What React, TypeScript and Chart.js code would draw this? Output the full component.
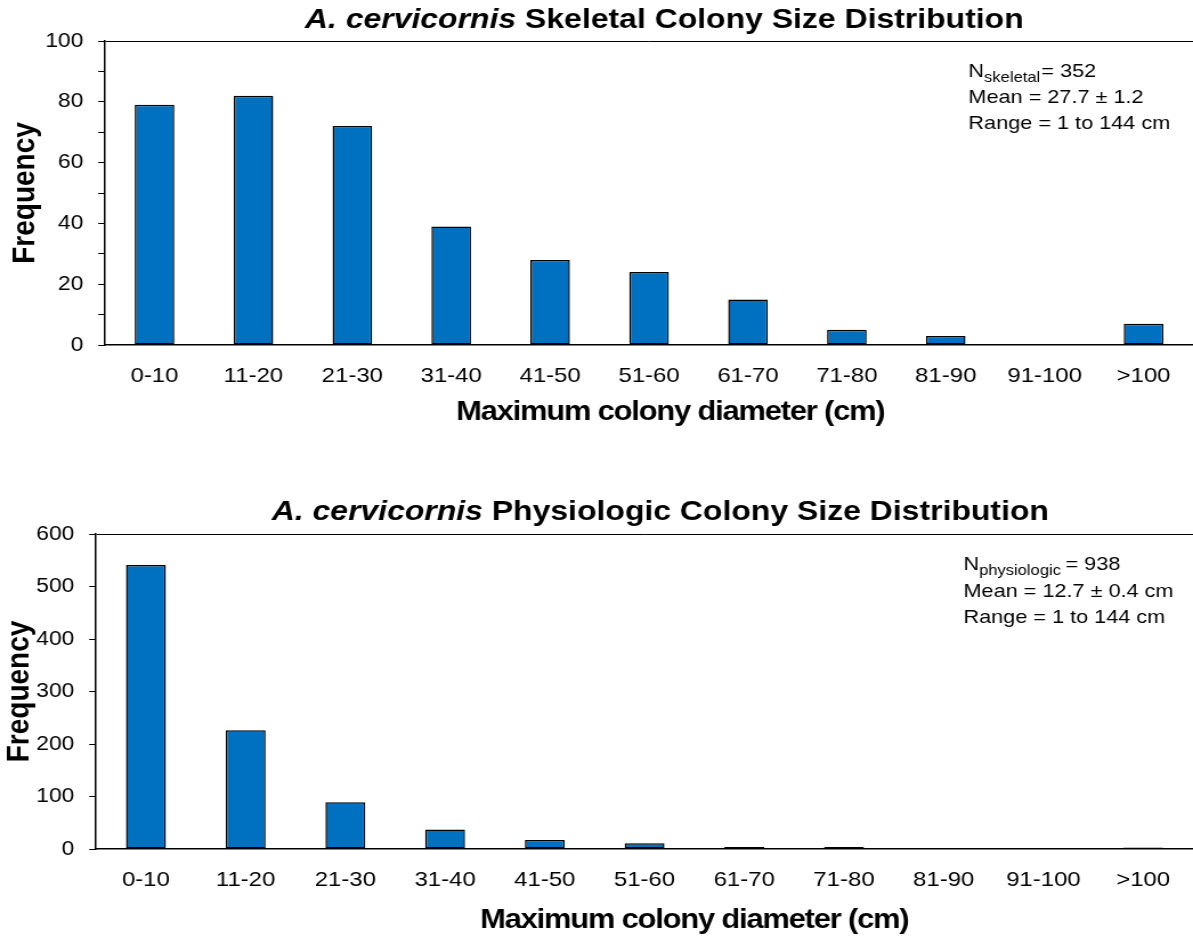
import React, { useEffect, useRef } from 'react';
import { Chart, registerables } from 'chart.js';

Chart.register(...registerables);

// Size classes (maximum colony diameter, cm)
const sizeClasses = ['0-10', '11-20', '21-30', '31-40', '41-50', '51-60', '61-70', '71-80', '81-90', '91-100', '>100'];

// Colony counts per size class
const skeletalCounts = [79, 82, 72, 39, 28, 24, 15, 5, 3, 0, 7];
const physiologicCounts = [541, 226, 89, 37, 17, 11, 4, 4, 0, 0, 3];

// Labelled y-axis ticks (minor ticks in between are left unlabelled)
const skeletalYLabels = [0, 20, 40, 60, 80, 100];
const physiologicYLabels = [0, 100, 200, 300, 400, 500, 600];

// Summary statistics
const skeletalStats = ['Mean = 27.7 \u00b1 1.2', 'Range = 1 to 144 cm'];
const physiologicStats = ['Mean = 12.7 \u00b1 0.4 cm', 'Range = 1 to 144 cm'];

const FONT = "'Liberation Sans', Arial, Helvetica, sans-serif";
const PAGE_W = 1193;
const PAGE_H = 939;
// The figure is drawn slightly narrower and widened on screen
const X_STRETCH = 1.14;
const CANVAS_W = Math.round(PAGE_W / X_STRETCH);

type PanelSpec = {
  kind: string;
  subscript: string;
  nText: string;
  subGap: number;
  stats: string[];
  counts: number[];
  yLabels: number[];
  yMax: number;
  yStep: number;
  // layout (page pixels)
  top: number;
  height: number;
  plotTop: number;
  plotBottom: number;
  plotLeft: number;
  yTitlePad: number;
  xTickPad: number;
  titleCx: number;
  titleCy: number;
  xTitleCx: number;
  xTitleCy: number;
  statsX: number;
  statsBaselines: number[];
};

function overlayPlugin(p: PanelSpec) {
  return {
    id: 'panelText',
    afterDraw(chart: any) {
      const ctx: CanvasRenderingContext2D = chart.ctx;
      const sx = (v: number) => v / X_STRETCH;
      const oy = (v: number) => v - p.top;
      ctx.save();
      ctx.fillStyle = '#000';

      // Chart title: italic species name followed by bold text
      const fItalic = `italic bold 28px ${FONT}`;
      const fBold = `bold 28px ${FONT}`;
      const species = 'A. cervicornis';
      const rest = ` ${p.kind} Colony Size Distribution`;
      ctx.font = fItalic;
      const w1 = ctx.measureText(species).width;
      ctx.font = fBold;
      const w2 = ctx.measureText(rest).width;
      const x = sx(p.titleCx) - (w1 + w2) / 2;
      ctx.textAlign = 'left';
      ctx.textBaseline = 'middle';
      ctx.font = fItalic;
      ctx.fillText(species, x, oy(p.titleCy));
      ctx.font = fBold;
      ctx.fillText(rest, x + w1, oy(p.titleCy));

      // X-axis title
      ctx.font = `bold 27px ${FONT}`;
      (ctx as any).letterSpacing = '-1px';
      ctx.textAlign = 'center';
      ctx.fillText('Maximum colony diameter (cm)', sx(p.xTitleCx), oy(p.xTitleCy));
      (ctx as any).letterSpacing = '0px';

      // Summary statistics block
      ctx.textAlign = 'left';
      ctx.textBaseline = 'alphabetic';
      const main = `19px ${FONT}`;
      const sub = `14.5px ${FONT}`;
      let tx = sx(p.statsX);
      const b0 = oy(p.statsBaselines[0]);
      ctx.font = main;
      ctx.fillText('N', tx, b0);
      tx += ctx.measureText('N').width;
      ctx.font = sub;
      ctx.fillText(p.subscript, tx, b0 + 5);
      tx += ctx.measureText(p.subscript).width + p.subGap;
      ctx.font = main;
      ctx.fillText(p.nText, tx, b0);
      p.stats.forEach((line, i) => {
        ctx.fillText(line, sx(p.statsX), oy(p.statsBaselines[i + 1]));
      });
      ctx.restore();
    },
  };
}

function Panel({ spec }: { spec: PanelSpec }) {
  const ref = useRef<HTMLCanvasElement | null>(null);

  useEffect(() => {
    if (!ref.current) return;
    const p = spec;
    const chart = new Chart(ref.current, {
      type: 'bar',
      data: {
        labels: sizeClasses,
        datasets: [
          {
            data: p.counts,
            backgroundColor: '#0070C0',
            borderColor: '#000',
            borderWidth: 1.5,
            borderSkipped: false,
            barPercentage: 0.4,
            categoryPercentage: 1,
          },
        ],
      },
      options: {
        responsive: false,
        animation: false,
        devicePixelRatio: 1,
        events: [],
        layout: { padding: { top: p.plotTop - p.top, left: 0, right: 0, bottom: 0 } },
        plugins: {
          legend: { display: false },
          tooltip: { enabled: false },
          title: { display: false },
        },
        scales: {
          x: {
            type: 'category',
            grid: { display: false, drawTicks: false },
            border: { display: true, color: '#000', width: 1.5 },
            ticks: {
              color: '#000',
              font: { family: FONT, size: 21 },
              padding: p.xTickPad,
              autoSkip: false,
              maxRotation: 0,
              minRotation: 0,
            },
            afterFit: (s: any) => {
              s.height = p.top + p.height - p.plotBottom;
            },
          },
          y: {
            min: 0,
            max: p.yMax,
            grid: {
              drawOnChartArea: true,
              color: (c: any) => (c.tick && c.tick.value === p.yMax ? '#000' : 'rgba(0,0,0,0)'),
              tickColor: '#000',
              tickLength: 6,
              lineWidth: 1,
            },
            border: { display: true, color: '#000', width: 1.5 },
            ticks: {
              stepSize: p.yStep,
              color: '#000',
              font: { family: FONT, size: 20 },
              padding: 13,
              callback: (v: any) => (p.yLabels.includes(Number(v)) ? String(v) : ''),
            },
            title: {
              display: true,
              text: 'Frequency',
              color: '#000',
              font: { family: FONT, size: 28, weight: 'bold' },
              padding: { top: p.yTitlePad, bottom: 0 },
            },
            afterFit: (s: any) => {
              s.width = p.plotLeft / X_STRETCH;
            },
          },
        },
      } as any,
      plugins: [overlayPlugin(p)],
    });
    return () => chart.destroy();
  }, [spec]);

  return (
    <canvas
      ref={ref}
      width={CANVAS_W}
      height={spec.height}
      style={{
        position: 'absolute',
        left: 0,
        top: spec.top,
        width: `${PAGE_W}px`,
        height: `${spec.height}px`,
      }}
    />
  );
}

const skeletalPanel: PanelSpec = {
  kind: 'Skeletal',
  subscript: 'skeletal',
  nText: '= 352',
  subGap: 1,
  stats: skeletalStats,
  counts: skeletalCounts,
  yLabels: skeletalYLabels,
  yMax: 100,
  yStep: 10,
  top: 0,
  height: 470,
  plotTop: 41,
  plotBottom: 345,
  plotLeft: 105,
  yTitlePad: 5,
  xTickPad: 19,
  titleCx: 664,
  titleCy: 20,
  xTitleCx: 670,
  xTitleCy: 413,
  statsX: 968,
  statsBaselines: [77, 103, 129],
};

const physiologicPanel: PanelSpec = {
  kind: 'Physiologic',
  subscript: 'physiologic',
  nText: '= 938',
  subGap: 4,
  stats: physiologicStats,
  counts: physiologicCounts,
  yLabels: physiologicYLabels,
  yMax: 600,
  yStep: 50,
  top: 470,
  height: 469,
  plotTop: 534,
  plotBottom: 849,
  plotLeft: 96,
  yTitlePad: 0,
  xTickPad: 19,
  titleCx: 660,
  titleCy: 512,
  xTitleCx: 694,
  xTitleCy: 921,
  statsX: 963,
  statsBaselines: [570, 597, 623],
};

export default function App() {
  return (
    <div
      style={{
        position: 'absolute',
        left: 0,
        top: 0,
        width: PAGE_W,
        height: PAGE_H,
        background: '#fff',
        overflow: 'hidden',
      }}
    >
      <Panel spec={skeletalPanel} />
      <Panel spec={physiologicPanel} />
    </div>
  );
}
